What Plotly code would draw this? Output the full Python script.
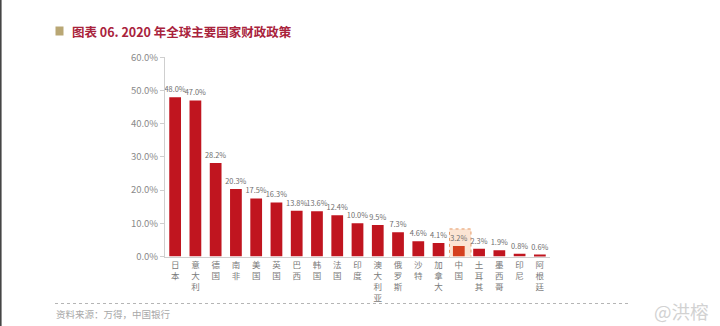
import plotly.graph_objects as go

categories = ["日本", "意大利", "德国", "南非", "美国", "英国", "巴西", "韩国", "法国", "印度",
              "澳大利亚", "俄罗斯", "沙特", "加拿大", "中国", "土耳其", "墨西哥", "印尼", "阿根廷"]
values = [48.0, 47.0, 28.2, 20.3, 17.5, 16.3, 13.8, 13.6, 12.4, 10.0,
          9.5, 7.3, 4.6, 4.1, 3.2, 2.3, 1.9, 0.8, 0.6]
y_ticks = [0, 10, 20, 30, 40, 50, 60]
y_tick_labels = ["0.0%", "10.0%", "20.0%", "30.0%", "40.0%", "50.0%", "60.0%"]
highlight = "中国"

W, H = 720, 326
FONT = "Noto Sans CJK SC"

bar_colors = ["#d4401f" if c == highlight else "#c0151f" for c in categories]
tick_text = ["<br>".join(list(c)) for c in categories]
labels = [f"{v:.1f}%" for v in values]

fig = go.Figure()
fig.add_trace(go.Bar(
    x=list(range(len(categories))), y=values,
    marker=dict(color=bar_colors, line=dict(width=0)),
    text=labels, textposition="outside", cliponaxis=False, constraintext="none",
    textfont=dict(family=FONT, size=7.4, color="#6e6e6e"),
    width=0.58,
))

hi = categories.index(highlight)
shapes = [
    # highlight box around China
    dict(type="rect", xref="x", yref="y", x0=hi - 0.46, x1=hi + 0.6, y0=-8.6, y1=8.3,
         fillcolor="rgba(248,205,175,0.55)", line=dict(color="#e59a66", width=1, dash="dot"),
         layer="below"),
    # dotted separator
    dict(type="line", xref="paper", yref="paper", x0=55 / W, x1=630 / W,
         y0=1 - 303.5 / H, y1=1 - 303.5 / H, line=dict(color="#b5b5b5", width=1, dash="dot")),
    # title square
    dict(type="rect", xref="paper", yref="paper", x0=55.5 / W, x1=63.5 / W,
         y0=1 - 35.5 / H, y1=1 - 26.5 / H, fillcolor="#b9a774", line=dict(width=0)),
    # left border artifact
    dict(type="rect", xref="paper", yref="paper", x0=0, x1=1.6 / W, y0=0, y1=1,
         fillcolor="#454545", line=dict(width=0)),
]

annotations = [
    dict(text="图表 06. 2020 年全球主要国家财政政策", xref="paper", yref="paper",
         x=70 / W, y=1 - 31 / H, xanchor="left", yanchor="middle", showarrow=False,
         font=dict(family=FONT, size=12.5, color="#a9233c", weight=600)),
    dict(text="资料来源：万得，中国银行", xref="paper", yref="paper",
         x=54 / W, y=1 - 314 / H, xanchor="left", yanchor="middle", showarrow=False,
         font=dict(family=FONT, size=9.5, color="#a8a8a8")),
    dict(text="@洪榕", xref="paper", yref="paper",
         x=711 / W, y=1 - 311 / H, xanchor="right", yanchor="middle", showarrow=False,
         font=dict(family=FONT, size=18.5, color="#d2d2d2")),
]

fig.update_layout(
    width=W, height=H,
    margin=dict(l=0, r=0, t=0, b=0),
    paper_bgcolor="white", plot_bgcolor="white",
    showlegend=False,
    shapes=shapes, annotations=annotations,
    xaxis=dict(
        domain=[165 / W, 550 / W], range=[-0.5, len(categories) - 0.5],
        tickmode="array", tickvals=list(range(len(categories))), ticktext=tick_text,
        tickfont=dict(family=FONT, size=8.5, color="#7a7a7a"),
        showgrid=False, zeroline=False, showline=True, linecolor="#cfcfcf", linewidth=1,
        ticks="", tickangle=0, automargin=False,
    ),
    yaxis=dict(
        domain=[1 - 256.5 / H, 1 - 57.3 / H], range=[0, 60],
        tickmode="array", tickvals=y_ticks, ticktext=y_tick_labels,
        tickfont=dict(family=FONT, size=9.5, color="#8a8a8a"),
        showgrid=False, zeroline=False, showline=True, linecolor="#cfcfcf", linewidth=1,
        ticks="outside", ticklen=4, tickcolor="#cfcfcf", automargin=False,
    ),
)

fig.write_html("out.html")
